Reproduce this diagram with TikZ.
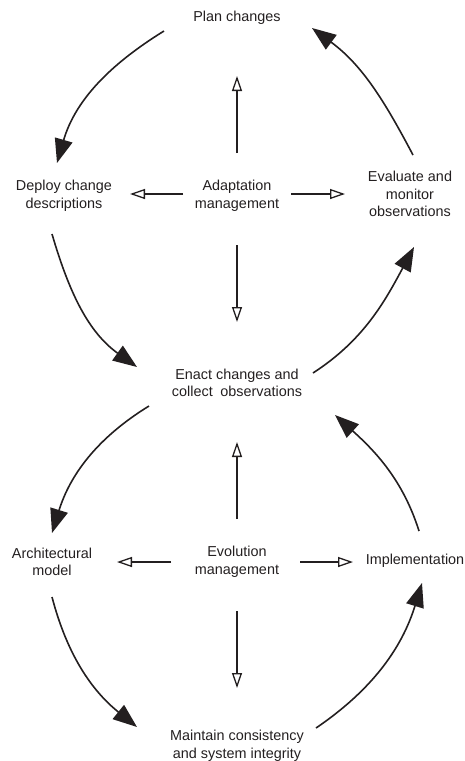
\documentclass[tikz,border=0pt]{standalone}
\usepackage{fontspec}
\setmainfont{Liberation Sans}
\usetikzlibrary{arrows.meta}
\definecolor{ink}{HTML}{231F20}
\begin{document}
\begin{tikzpicture}[x=1pt,y=-1pt,
  txt/.style={align=center, inner sep=0pt, text=ink,
    font=\fontsize{14.4}{17.5}\selectfont},
  flow/.style={line width=1.6pt, draw=ink,
    -{Triangle[length=24pt,width=18pt]}},
  mgmt/.style={line width=1.5pt, draw=ink,
    -{Triangle[open,length=15pt,width=10pt,line width=1.3pt]}},
]
\useasboundingbox (0,0) rectangle (464,761);

% ---- adaptation loop ----
\node[txt] (plan)   at (237,18)  {Plan changes};
\node[txt] (deploy) at (64,196)  {Deploy change\\descriptions};
\node[txt] (adapt)  at (237,196) {Adaptation\\management};
\node[txt] (eval)   at (410,194) {Evaluate and\\monitor\\observations};
\node[txt] (enact)  at (237,383) {Enact changes and\\collect\hspace{0.25em} observations};

% ---- evolution loop ----
\node[txt] (arch)  at (52,562)  {Architectural\\model};
\node[txt] (evol)  at (237,562) {Evolution\\management};
\node[txt] (impl)  at (415,561) {Implementation};
\node[txt] (maint) at (237,746) {Maintain consistency\\and system integrity};

% end points of the cycle arrows
\coordinate (plan-o)   at (164,31);
\coordinate (deploy-i) at (57,163);
\coordinate (eval-o)   at (413,155);
\coordinate (plan-i)   at (312,28);
\coordinate (deploy-o) at (52,234);
\coordinate (enact-i)  at (137,367);
\coordinate (enact-o)  at (313,373);
\coordinate (eval-i)   at (414,247);
\coordinate (enact-o2) at (149,406);
\coordinate (arch-i)   at (52,533);
\coordinate (impl-o)   at (419,531);
\coordinate (enact-i2) at (335,415);
\coordinate (arch-o)   at (52,597);
\coordinate (maint-i)  at (137,727);
\coordinate (maint-o)  at (316,728);
\coordinate (impl-i)   at (422,583);

% adaptation cycle
\draw[flow] (plan-o) .. controls (109,65) and (75,101) .. (deploy-i);
\draw[flow] (deploy-o) .. controls (69,292) and (88,332) .. (enact-i);
\draw[flow] (enact-o) .. controls (364,340) and (385,301) .. (eval-i);
\draw[flow] (eval-o) .. controls (384,100) and (362,65) .. (plan-i);

% evolution cycle
\draw[flow] (enact-o2) .. controls (97,438) and (70,475) .. (arch-i);
\draw[flow] (arch-o) .. controls (67,654) and (91,690) .. (maint-i);
\draw[flow] (maint-o) .. controls (372,690) and (402,648) .. (impl-i);
\draw[flow] (impl-o) .. controls (403,480) and (375,451) .. (enact-i2);

% adaptation management arrows
\coordinate (a-up)    at (237,76);
\coordinate (a-left)  at (130,194);
\coordinate (a-right) at (345,194);
\coordinate (a-down)  at (237,322);
\draw[mgmt] (237,153) -- (a-up);
\draw[mgmt] (183,194) -- (a-left);
\draw[mgmt] (291,194) -- (a-right);
\draw[mgmt] (237,245) -- (a-down);

% evolution management arrows
\coordinate (e-up)    at (237,442);
\coordinate (e-left)  at (117,562);
\coordinate (e-right) at (353,562);
\coordinate (e-down)  at (237,688);
\draw[mgmt] (237,519) -- (e-up);
\draw[mgmt] (171,562) -- (e-left);
\draw[mgmt] (300,562) -- (e-right);
\draw[mgmt] (237,611) -- (e-down);
\end{tikzpicture}
\end{document}
